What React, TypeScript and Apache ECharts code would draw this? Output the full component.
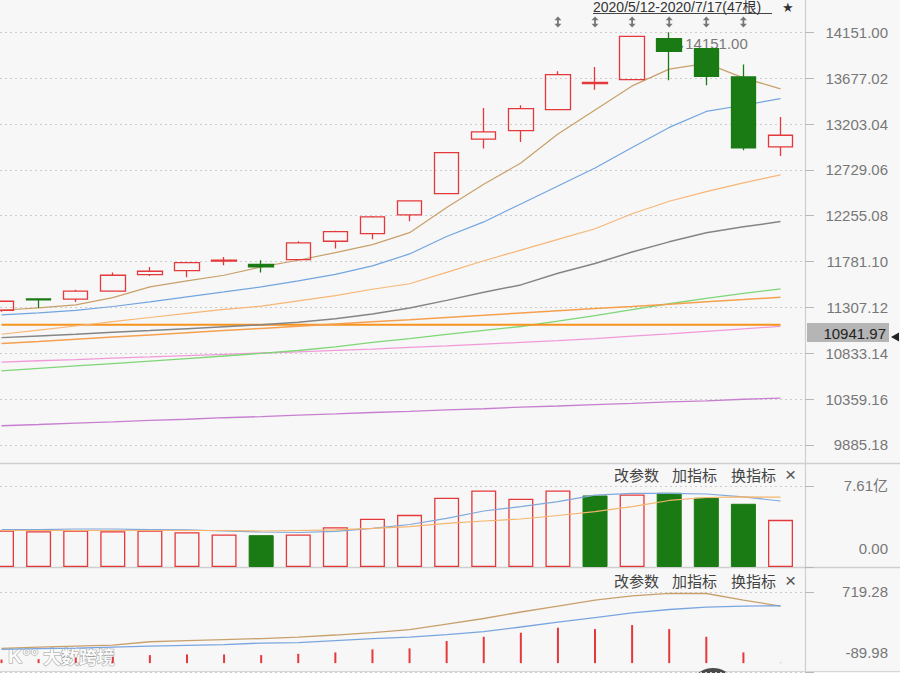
import React, { useEffect, useRef } from 'react';
import * as echarts from 'echarts';

// ---------- data (visible window: last 22 of 47 trading days) ----------
const categories = [
  '2020/6/16', '2020/6/17', '2020/6/18', '2020/6/19', '2020/6/22', '2020/6/23',
  '2020/6/24', '2020/6/29', '2020/6/30', '2020/7/1', '2020/7/2', '2020/7/3',
  '2020/7/6', '2020/7/7', '2020/7/8', '2020/7/9', '2020/7/10', '2020/7/13',
  '2020/7/14', '2020/7/15', '2020/7/16', '2020/7/17',
];

// [open, close, lowest, highest]
const ohlc = [
  [11278, 11371, 11262, 11371],
  [11395, 11385, 11302, 11398],
  [11392, 11475, 11364, 11491],
  [11475, 11640, 11475, 11667],
  [11646, 11681, 11633, 11726],
  [11687, 11770, 11619, 11770],
  [11785, 11795, 11743, 11829],
  [11753, 11726, 11667, 11795],
  [11801, 11974, 11801, 11991],
  [11991, 12091, 11915, 12101],
  [12070, 12243, 12012, 12253],
  [12263, 12408, 12198, 12408],
  [12483, 12907, 12483, 12907],
  [13046, 13121, 12949, 13369],
  [13135, 13362, 13018, 13397],
  [13352, 13713, 13352, 13749],
  [13622, 13632, 13558, 13793],
  [13662, 14110, 13662, 14110],
  [14086, 13955, 13656, 14151],
  [13982, 13697, 13604, 13990],
  [13690, 12956, 12932, 13817],
  [12966, 13087, 12873, 13276],
];

const ma5 = [11278, 11302, 11333, 11408, 11519, 11581, 11640, 11726, 11795, 11874, 11956, 12080, 12340, 12580, 12800, 13100, 13349, 13597, 13770, 13830, 13680, 13566];
const ma10 = [11230, 11250, 11276, 11317, 11364, 11416, 11467, 11519, 11581, 11648, 11736, 11860, 12041, 12191, 12377, 12563, 12749, 12961, 13168, 13333, 13397, 13465];
const ma20 = [11030, 11072, 11115, 11160, 11203, 11245, 11287, 11320, 11375, 11430, 11495, 11552, 11670, 11790, 11900, 12010, 12120, 12275, 12405, 12505, 12595, 12678];
const ma30 = [10995, 11012, 11030, 11050, 11068, 11088, 11108, 11128, 11155, 11190, 11240, 11301, 11380, 11465, 11540, 11660, 11762, 11880, 11985, 12080, 12140, 12195];
const ma60 = [10934, 10955, 10978, 11001, 11023, 11046, 11068, 11090, 11112, 11135, 11158, 11180, 11204, 11226, 11250, 11273, 11296, 11318, 11341, 11365, 11388, 11412];
const maFlat = [11128, 11128, 11128, 11128, 11128, 11128, 11128, 11128, 11128, 11128, 11128, 11128, 11128, 11128, 11128, 11128, 11128, 11128, 11128, 11128, 11128, 11128];
const ma120 = [10652, 10677, 10702, 10727, 10752, 10778, 10805, 10832, 10862, 10900, 10945, 10985, 11028, 11070, 11110, 11165, 11222, 11285, 11345, 11400, 11452, 11499];
const ma250 = [10741, 10756, 10768, 10783, 10795, 10809, 10822, 10836, 10848, 10863, 10877, 10894, 10910, 10928, 10945, 10964, 10985, 11010, 11034, 11060, 11086, 11112];
const maLong = [10084, 10097, 10112, 10124, 10139, 10151, 10167, 10179, 10194, 10206, 10221, 10233, 10249, 10260, 10276, 10288, 10303, 10315, 10331, 10342, 10358, 10370];

const priceTicks = [9885.18, 10359.16, 10833.14, 11307.12, 11781.10, 12255.08, 12729.06, 13203.04, 13677.02, 14151.00];
const signalIdx = [15, 16, 17, 18, 19, 20];
const signalLevel = 14258;
const lastPrice = '10941.97';

// volume in 亿, 1 = rising vs previous close
const volume = [3.43, 3.36, 3.43, 3.36, 3.43, 3.27, 3.05, 2.99, 3.05, 3.74, 4.53, 4.90, 6.50, 7.19, 6.41, 7.19, 6.72, 6.81, 6.97, 6.50, 5.94, 4.43];
const volUp = [1, 1, 1, 1, 1, 1, 1, 0, 1, 1, 1, 1, 1, 1, 1, 1, 0, 1, 0, 0, 0, 1];
const volMa5 = [3.52, 3.52, 3.57, 3.57, 3.52, 3.48, 3.38, 3.29, 3.24, 3.34, 3.62, 3.99, 4.56, 5.26, 5.68, 6.15, 6.76, 6.91, 6.91, 6.86, 6.58, 6.20];
const volMa10 = [3.43, 3.43, 3.43, 3.43, 3.43, 3.43, 3.43, 3.38, 3.43, 3.48, 3.62, 3.80, 4.09, 4.32, 4.51, 4.84, 5.21, 5.68, 6.25, 6.53, 6.58, 6.56];
const volTicks = [0, 7.61];

const macdHist = [36, 40, 56, 64, 81, 88, 88, 81, 94, 108, 139, 149, 223, 266, 307, 358, 344, 385, 344, 266, 108, 3];
const dif = [149, 162, 172, 182, 216, 228, 238, 248, 263, 284, 309, 339, 395, 451, 517, 577, 638, 679, 706, 704, 638, 577];
const dea = [139, 147, 152, 162, 172, 179, 187, 203, 208, 228, 248, 263, 289, 319, 365, 415, 461, 507, 542, 567, 577, 580];
const macdTicks = [-89.98, 719.28];

// ---------- styles / layout ----------
const RED = '#e5383b';
const GREEN = '#1a7a13';
const NUM_FONT = '"Liberation Sans", Arial, sans-serif';
const CJK_FONT = '"Noto Sans CJK SC", sans-serif';
const AXIS_X = 805;
const DATA_LEFT = 1.5;
const DATA_WIDTH = 779;
const PANELS = [
  { top: 0, height: 463, min: 9699, max: 14485 },
  { top: 463, height: 104, min: 0, max: 9.77 },
  { top: 567, height: 105, min: -89.98, max: 972 },
];

function line(name: string, data: number[], color: string, width: number, panel: number) {
  return {
    name, type: 'line', data, xAxisIndex: 3 + panel, yAxisIndex: 3 + panel,
    showSymbol: false, symbol: 'none', smooth: false, clip: false,
    lineStyle: { color, width }, z: 3,
  };
}

function headerTexts(y: number) {
  const t = (text: string, x: number) => ({
    type: 'text', x, y,
    style: { text, fill: '#444', font: `15px ${CJK_FONT}`, textVerticalAlign: 'middle' },
  });
  return [
    t('改参数', 614), t('加指标', 672), t('换指标', 731),
    { type: 'text', x: 785, y, style: { text: '×', fill: '#555', font: `19px ${NUM_FONT}`, textVerticalAlign: 'middle' } },
  ];
}

const frameAxis = (i: number, ticks: number[], formatter: any, rich?: any) => ({
  gridIndex: i, position: 'right', min: PANELS[i].min, max: PANELS[i].max,
  axisLine: { show: false },
  axisTick: { show: true, length: 9, lineStyle: { color: '#b8b8b8' }, customValues: ticks },
  axisLabel: {
    customValues: ticks, formatter, rich,
    color: '#777', fontSize: 15, fontFamily: `${NUM_FONT}, ${CJK_FONT}`, align: 'right', margin: 83,
  },
  splitLine: { show: true, lineStyle: { color: '#cdcdcd', type: [2, 3] } },
});

const option: any = {
  animation: false,
  backgroundColor: '#f7f7f7',
  grid: [
    ...PANELS.map((p) => ({ left: 0, top: p.top, width: AXIS_X, height: p.height, outerBoundsMode: 'none' })),
    ...PANELS.map((p) => ({ left: DATA_LEFT, top: p.top, width: DATA_WIDTH, height: p.height, outerBoundsMode: 'none' })),
  ],
  xAxis: [
    ...[0, 1, 2].map((i) => ({ type: 'category', gridIndex: i, data: categories, show: false })),
    ...[3, 4, 5].map((i) => ({ type: 'category', gridIndex: i, data: categories, boundaryGap: false, show: false })),
  ],
  yAxis: [
    frameAxis(0, priceTicks, (v: number) => v.toFixed(2)),
    frameAxis(1, volTicks, (v: number) => (v < 1 ? `{lo|${v.toFixed(2)}}` : `${v.toFixed(2)}亿`),
      { lo: { padding: [0, 0, 38, 0], fontSize: 15, fontFamily: NUM_FONT, color: '#777' } }),
    frameAxis(2, macdTicks, (v: number) => (v < 0 ? `{lo|${v.toFixed(2)}}` : v.toFixed(2)),
      { lo: { padding: [0, 0, 40, 0], fontSize: 15, fontFamily: NUM_FONT, color: '#777' } }),
    ...[0, 1, 2].map((i) => ({
      gridIndex: 3 + i, position: 'right', min: PANELS[i].min, max: PANELS[i].max, show: false,
      splitLine: { show: false },
    })),
  ],
  series: [
    line('MA250', maLong, '#c77fd0', 1.3, 0),
    line('MA120', ma250, '#f29ad9', 1.3, 0),
    line('MA90', ma120, '#7ed676', 1.3, 0),
    line('MAflat', maFlat, '#f7931f', 1.8, 0),
    line('MA60', ma60, '#f5a04e', 1.5, 0),
    line('MA30', ma30, '#858585', 1.5, 0),
    line('MA20', ma20, '#f8b676', 1.2, 0),
    line('MA10', ma10, '#72a5e0', 1.2, 0),
    line('MA5', ma5, '#c9a06a', 1.2, 0),
    {
      name: 'K', type: 'candlestick', xAxisIndex: 3, yAxisIndex: 3, data: ohlc, barWidth: 25, z: 5, clip: false,
      itemStyle: { color: 'rgba(0,0,0,0)', color0: GREEN, borderColor: RED, borderColor0: GREEN, borderWidth: 1.3 },
      markPoint: {
        symbol: 'circle', symbolSize: 0,
        label: {
          show: true, position: [5, 4],
          formatter: (p: any) => `{a|↖}{b|${Number(p.value).toFixed(2)}}`,
          rich: {
            a: { color: '#444', fontSize: 13, fontFamily: NUM_FONT },
            b: { color: '#7a7a7a', fontSize: 15, fontFamily: NUM_FONT },
          },
        },
        data: [{ type: 'max', valueDim: 'highest' }],
      },
    },
    {
      name: 'signal', type: 'scatter', xAxisIndex: 3, yAxisIndex: 3, z: 6,
      data: signalIdx.map((i) => [i, signalLevel]),
      symbol: 'path://M5,0 L9,4 L6,4 L6,8 L9,8 L5,12 L1,8 L4,8 L4,4 L1,4 Z',
      symbolSize: [7, 11],
      itemStyle: { color: '#555' },
    },
    {
      name: 'VOL', type: 'bar', xAxisIndex: 4, yAxisIndex: 4, barWidth: 25, z: 2, clip: false,
      data: volume.map((v, i) => ({
        value: v,
        itemStyle: volUp[i]
          ? { color: 'rgba(0,0,0,0)', borderColor: RED, borderWidth: 1.3 }
          : { color: GREEN, borderColor: GREEN, borderWidth: 1 },
      })),
    },
    line('VMA5', volMa5, '#7fa8dc', 1.2, 1),
    line('VMA10', volMa10, '#f6b46c', 1.2, 1),
    {
      name: 'MACD', type: 'bar', xAxisIndex: 5, yAxisIndex: 5, barWidth: 2, z: 2, clip: false,
      data: macdHist, itemStyle: { color: RED },
    },
    line('DIF', dif, '#c8a06c', 1.3, 2),
    line('DEA', dea, '#7aa6e0', 1.3, 2),
  ],
  graphic: [
    // panel frame
    { type: 'line', shape: { x1: 0, y1: 463.5, x2: 900, y2: 463.5 }, style: { stroke: '#cfcfcf', lineWidth: 1.5 }, silent: true },
    { type: 'line', shape: { x1: 0, y1: 567.5, x2: 900, y2: 567.5 }, style: { stroke: '#cfcfcf', lineWidth: 1.5 }, silent: true },
    { type: 'line', shape: { x1: 0, y1: 671.5, x2: 900, y2: 671.5 }, style: { stroke: '#d6d6d6', lineWidth: 1 }, silent: true },
    { type: 'line', shape: { x1: AXIS_X + 0.5, y1: 0, x2: AXIS_X + 0.5, y2: 673 }, style: { stroke: '#cfcfcf', lineWidth: 1.2 }, silent: true },
    // range title
    {
      type: 'text', x: 593, y: 0,
      style: { text: '2020/5/12-2020/7/17(47根)', fill: '#333', font: `14px ${NUM_FONT}, ${CJK_FONT}`, textVerticalAlign: 'top' },
    },
    { type: 'line', shape: { x1: 593, y1: 13.5, x2: 772, y2: 13.5 }, style: { stroke: '#444', lineWidth: 1 } },
    { type: 'text', x: 782, y: 1, style: { text: '★', fill: '#333', font: `13px ${NUM_FONT}`, textVerticalAlign: 'top' } },
    // last price box
    { type: 'rect', shape: { x: 807, y: 323, width: 82, height: 19 }, style: { fill: '#b5b5b5' } },
    {
      type: 'text', x: 886, y: 333,
      style: { text: lastPrice, fill: '#222', font: `15px ${NUM_FONT}`, textAlign: 'right', textVerticalAlign: 'middle' },
    },
    { type: 'polygon', shape: { points: [[891, 337], [899, 332.5], [899, 341.5]] }, style: { fill: '#222' } },
    ...headerTexts(474),
    ...headerTexts(580),
    // watermark
    {
      type: 'text', x: 8, y: 656,
      style: { text: 'K°°', fill: 'rgba(255,255,255,0.9)', stroke: '#a0a0a0', lineWidth: 1, font: `bold 20px ${NUM_FONT}`, textVerticalAlign: 'middle' },
    },
    {
      type: 'text', x: 43, y: 656,
      style: { text: '大数跨境', fill: 'rgba(255,255,255,0.92)', stroke: '#a0a0a0', lineWidth: 1, font: `bold 18px ${CJK_FONT}`, textVerticalAlign: 'middle' },
    },
    // dark blob at bottom
    { type: 'circle', shape: { cx: 713, cy: 692, r: 24 }, style: { fill: '#4a4a4a' } },
  ],
};

export default function App() {
  const ref = useRef<HTMLDivElement>(null);
  useEffect(() => {
    document.body.style.margin = '0';
    const chart = echarts.init(ref.current as HTMLDivElement, null, { renderer: 'svg' });
    chart.setOption(option);
    return () => chart.dispose();
  }, []);
  return <div ref={ref} style={{ width: 900, height: 673, background: '#f7f7f7' }} />;
}
